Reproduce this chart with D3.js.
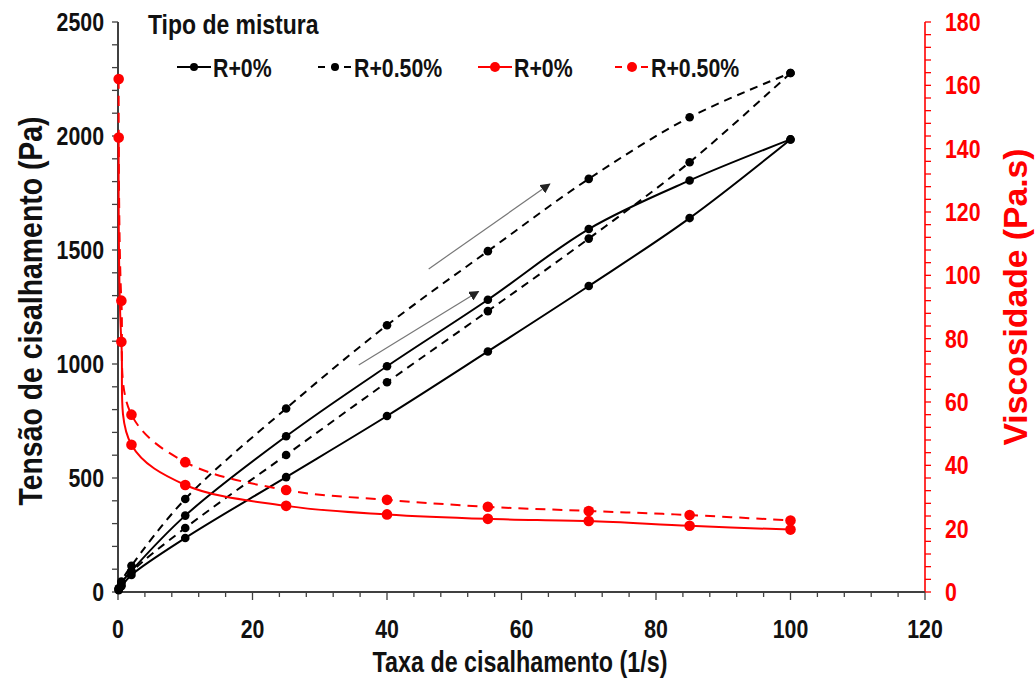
<!DOCTYPE html>
<html>
<head>
<meta charset="utf-8">
<script src="https://cdn.jsdelivr.net/npm/d3@7"></script>
<style>
  body { margin: 0; background: #fff; }
  svg text { font-family: "Liberation Sans", Arial, sans-serif; font-weight: bold; }
</style>
</head>
<body>
<div id="chart"></div>
<script>
// shear rates (1/s): ramp up then ramp down
const shearUp = [0.1, 0.5, 2, 10, 25, 40, 55, 70, 85, 100];
const shearDown = [100, 85, 70, 55, 40, 25, 10, 2, 0.5, 0.1];

// shear stress (Pa)
const stressR0Up = [14, 40, 93, 335, 683, 990, 1282, 1592, 1805, 1985];
const stressR0Down = [1985, 1640, 1342, 1055, 772, 504, 237, 75, 25, 8];
const stressR050Up = [16, 46, 115, 408, 805, 1170, 1495, 1812, 2082, 2276];
const stressR050Down = [2276, 1885, 1550, 1232, 920, 601, 281, 88, 30, 10];

// viscosity (Pa.s)
const viscR0 = [143.5, 79, 46.5, 33.8, 27.2, 24.5, 23.1, 22.4, 20.9, 19.7];
const viscR050 = [162, 92, 56, 41, 32.2, 29.1, 26.9, 25.6, 24.3, 22.6];

const legendLabels = ["R+0%", "R+0.50%", "R+0%", "R+0.50%"];
const xTicks = [0, 20, 40, 60, 80, 100, 120];
const yTicks = [0, 500, 1000, 1500, 2000, 2500];
const y2Ticks = [0, 20, 40, 60, 80, 100, 120, 140, 160, 180];

// arrows drawn on the plot, in data units [x1, y1, x2, y2]
const arrows = [[46.2, 1417, 64.2, 1789], [35.8, 996, 53.6, 1318]];

function makeChart() {
    const width = 1036, height = 680;
    const margin = { left: 118, right: 111, top: 22, bottom: 88 };
    const red = "#ff0000", axisCol = "#404040", ink = "#111";
    const narrow = 0.82; // mimic a narrow bold face

    const svg = d3.select("#chart").append("svg")
        .attr("width", width)
        .attr("height", height);

    const x = d3.scaleLinear().domain([0, 120]).range([margin.left, width - margin.right]);
    const y = d3.scaleLinear().domain([0, 2500]).range([height - margin.bottom, margin.top]);
    const y2 = d3.scaleLinear().domain([0, 180]).range([height - margin.bottom, margin.top]);

    const x0 = x(0), x1 = x(120), yb = y(0), yt = y(2500);

    const squeeze = (tx, ty) => "translate(" + tx + "," + ty + ") scale(" + narrow + ",1)";

    // minor ticks
    const minor = svg.append("g");
    minor.selectAll(".mx").data(d3.range(0, 121, 4)).enter().append("line")
        .attr("x1", d => x(d)).attr("x2", d => x(d))
        .attr("y1", yb).attr("y2", d => yb + (d % 20 === 0 ? 8 : 5))
        .attr("stroke", axisCol).attr("stroke-width", 1.3);
    minor.selectAll(".my").data(d3.range(0, 2501, 100)).enter().append("line")
        .attr("x1", x0 - 6).attr("x2", x0)
        .attr("y1", d => y(d)).attr("y2", d => y(d))
        .attr("stroke", axisCol).attr("stroke-width", 1.3);
    minor.selectAll(".my2").data(d3.range(0, 181, 4)).enter().append("line")
        .attr("x1", x1).attr("x2", x1 + 6)
        .attr("y1", d => y2(d)).attr("y2", d => y2(d))
        .attr("stroke", red).attr("stroke-width", 1.3);

    // axis lines
    svg.append("line").attr("x1", x0).attr("x2", x0).attr("y1", yt).attr("y2", yb)
        .attr("stroke", axisCol).attr("stroke-width", 2);
    svg.append("line").attr("x1", x1).attr("x2", x1).attr("y1", yt).attr("y2", yb)
        .attr("stroke", red).attr("stroke-width", 1.6);
    svg.append("line").attr("x1", x0).attr("x2", x1).attr("y1", yb).attr("y2", yb)
        .attr("stroke", axisCol).attr("stroke-width", 2);

    // tick labels
    svg.append("g").selectAll("text").data(xTicks).enter().append("text")
        .attr("transform", d => squeeze(x(d), yb + 46))
        .attr("text-anchor", "middle").attr("font-size", 26).attr("fill", ink)
        .text(d => d);
    svg.append("g").selectAll("text").data(yTicks).enter().append("text")
        .attr("transform", d => squeeze(x0 - 14, y(d) + 9))
        .attr("text-anchor", "end").attr("font-size", 26).attr("fill", ink)
        .text(d => d);
    svg.append("g").selectAll("text").data(y2Ticks).enter().append("text")
        .attr("transform", d => squeeze(x1 + 20, y2(d) + 9))
        .attr("text-anchor", "start").attr("font-size", 26).attr("fill", red)
        .text(d => d);

    // axis titles
    svg.append("text").attr("x", 520).attr("y", 672)
        .attr("text-anchor", "middle").attr("font-size", 29).attr("fill", ink)
        .attr("textLength", 295).attr("lengthAdjust", "spacingAndGlyphs")
        .text("Taxa de cisalhamento (1/s)");
    svg.append("text").attr("transform", "translate(42,311) rotate(-90)")
        .attr("text-anchor", "middle").attr("font-size", 34).attr("fill", ink)
        .attr("textLength", 389).attr("lengthAdjust", "spacingAndGlyphs")
        .text("Tensão de cisalhamento (Pa)");
    svg.append("text").attr("transform", "translate(1027,297) rotate(-90)")
        .attr("text-anchor", "middle").attr("font-size", 34).attr("fill", red)
        .attr("textLength", 297).attr("lengthAdjust", "spacingAndGlyphs")
        .text("Viscosidade (Pa.s)");

    // series
    const lineL = d3.line().x(d => x(d[0])).y(d => y(d[1])).curve(d3.curveCatmullRom.alpha(0.5));
    const lineR = d3.line().x(d => x(d[0])).y(d => y2(d[1])).curve(d3.curveCatmullRom.alpha(0.5));
    const zip = (a, b) => a.map((v, i) => [v, b[i]]);

    const series = [
        { pts: zip(shearUp, stressR0Up), line: lineL, ys: y, col: "#000", dash: null, r: 4.3 },
        { pts: zip(shearDown, stressR0Down), line: lineL, ys: y, col: "#000", dash: null, r: 4.3 },
        { pts: zip(shearUp, stressR050Up), line: lineL, ys: y, col: "#000", dash: "8,6", r: 4.3 },
        { pts: zip(shearDown, stressR050Down), line: lineL, ys: y, col: "#000", dash: "8,6", r: 4.3 },
        { pts: zip(shearUp, viscR0), line: lineR, ys: y2, col: red, dash: null, r: 5.3 },
        { pts: zip(shearUp, viscR050), line: lineR, ys: y2, col: red, dash: "10,7", r: 5.3 }
    ];

    series.forEach(s => {
        svg.append("path").datum(s.pts)
            .attr("d", s.line)
            .attr("fill", "none")
            .attr("stroke", s.col)
            .attr("stroke-width", 2)
            .attr("stroke-dasharray", s.dash);
        svg.append("g").selectAll("circle").data(s.pts).enter().append("circle")
            .attr("cx", d => x(d[0]))
            .attr("cy", d => s.ys(d[1]))
            .attr("r", s.r)
            .attr("fill", s.col);
    });

    // arrows
    svg.append("defs").append("marker")
        .attr("id", "head").attr("viewBox", "0 0 10 10")
        .attr("refX", 9).attr("refY", 5)
        .attr("markerWidth", 10).attr("markerHeight", 10)
        .attr("markerUnits", "userSpaceOnUse")
        .attr("orient", "auto")
        .append("path").attr("d", "M0,0L10,5L0,10z").attr("fill", "#222");
    svg.append("g").selectAll("line").data(arrows).enter().append("line")
        .attr("x1", d => x(d[0])).attr("y1", d => y(d[1]))
        .attr("x2", d => x(d[2])).attr("y2", d => y(d[3]))
        .attr("stroke", "#777").attr("stroke-width", 1.2)
        .attr("marker-end", "url(#head)");

    // legend
    svg.append("text").attr("transform", squeeze(148, 34))
        .attr("font-size", 28).attr("fill", ink)
        .text("Tipo de mistura");
    const legX = [177, 318, 478, 615];
    const leg = svg.append("g").selectAll("g").data(legendLabels).enter().append("g")
        .attr("transform", (d, i) => "translate(" + legX[i] + ",67)");
    leg.append("line").attr("x1", 0).attr("x2", 34).attr("y1", 0).attr("y2", 0)
        .attr("stroke", (d, i) => i < 2 ? "#000" : red)
        .attr("stroke-width", 2)
        .attr("stroke-dasharray", (d, i) => i % 2 ? "7,6" : null);
    leg.append("circle").attr("cx", 17).attr("cy", 0)
        .attr("r", (d, i) => i < 2 ? 4 : 5)
        .attr("fill", (d, i) => i < 2 ? "#000" : red);
    leg.append("text").attr("transform", squeeze(36, 9.5))
        .attr("font-size", 26).attr("fill", ink)
        .text(d => d);
}

makeChart();
</script>
</body>
</html>
